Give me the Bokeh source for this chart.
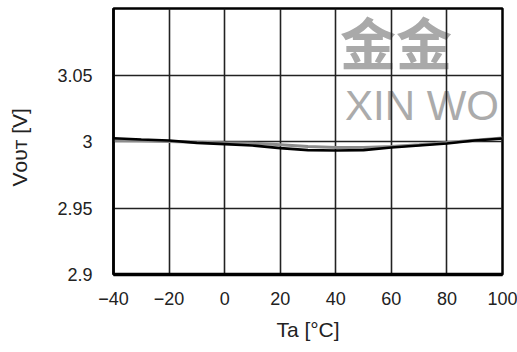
from bokeh.plotting import figure
from bokeh.models import FixedTicker, Label, Range1d
from bokeh.embed import file_html
from bokeh.resources import INLINE

# ---- data ----
temps = [-40, -30, -20, -10, 0, 10, 20, 30, 40, 50, 60, 70, 80, 90, 100]
vout_black = [3.0025, 3.0015, 3.0007, 2.9990, 2.9980, 2.9970, 2.9950, 2.9935,
              2.9932, 2.9935, 2.9955, 2.9970, 2.9985, 3.0008, 3.0022]
vout_grey = [3.0008, 3.0005, 3.0000, 2.9995, 2.9990, 2.9987, 2.9975, 2.9962,
             2.9955, 2.9955, 2.9962, 2.9975, 2.9992, 3.0010, 3.0026]

x_ticks = [-40, -20, 0, 20, 40, 60, 80, 100]
x_tick_labels = ["\u221240", "\u221220", "0", "20", "40", "60", "80", "100"]
y_ticks = [2.9, 2.95, 3.0, 3.05]
y_tick_labels = ["2.9", "2.95", "3", "3.05"]

FONT = "Liberation Sans"

p = figure(width=517, height=352,
           x_range=Range1d(-40, 100), y_range=Range1d(2.9, 3.1),
           output_backend="svg", toolbar_location=None,
           min_border_left=113, min_border_right=15,
           min_border_top=8, min_border_bottom=78)

p.background_fill_color = "white"
p.border_fill_color = "white"
p.outline_line_color = "black"
p.outline_line_width = 2.5

# grid
p.xgrid.ticker = FixedTicker(ticks=x_ticks)
p.ygrid.ticker = FixedTicker(ticks=y_ticks)
for g in (p.xgrid, p.ygrid):
    g.grid_line_color = "#222222"
    g.grid_line_width = 1.6

# axes
p.xaxis.ticker = FixedTicker(ticks=x_ticks)
p.yaxis.ticker = FixedTicker(ticks=y_ticks)
p.xaxis.major_label_overrides = dict(zip(x_ticks, x_tick_labels))
p.yaxis.major_label_overrides = dict(zip(y_ticks, y_tick_labels))
for ax in (p.xaxis[0], p.yaxis[0]):
    ax.major_tick_line_color = None
    ax.minor_tick_line_color = None
    ax.major_label_text_font = FONT
    ax.major_label_text_font_size = "18px"
    ax.major_label_text_color = "#222222"
    ax.axis_label_text_font = FONT
    ax.axis_label_text_font_style = "normal"
    ax.axis_label_text_color = "#222222"
    ax.axis_line_color = "black"
p.xaxis.axis_line_width = 3.5
p.yaxis.axis_line_width = 2.5
p.xaxis.major_label_standoff = 11
p.yaxis.major_label_standoff = 15
p.xaxis.axis_label = "Ta [°C]"
p.xaxis.axis_label_text_font_size = "21px"
p.xaxis.axis_label_standoff = 10
p.yaxis.axis_label = "V\u1d0f\u1d1c\u1d1b [V]\u00a0\u00a0"
p.yaxis.axis_label_text_font_size = "21px"
p.yaxis.axis_label_standoff = 23

# watermark (behind grid)
wm1 = Label(x=41.5, y=3.0760, text="金金", text_font="Noto Sans CJK SC",
            text_font_style="bold", text_font_size="56px", text_color="#a9a9a9",
            text_baseline="middle", text_align="left", level="image")
wm2 = Label(x=43.3, y=3.0270, text="XIN WO", text_font=FONT,
            text_font_size="42px", text_color="#ababab",
            text_baseline="middle", text_align="left", level="image")
p.add_layout(wm1)
p.add_layout(wm2)

# curves
p.line(temps, vout_grey, line_color="#8c8c8c", line_width=3)
p.line(temps, vout_black, line_color="black", line_width=2.6)

open("out.html", "w").write(file_html(p, INLINE))
